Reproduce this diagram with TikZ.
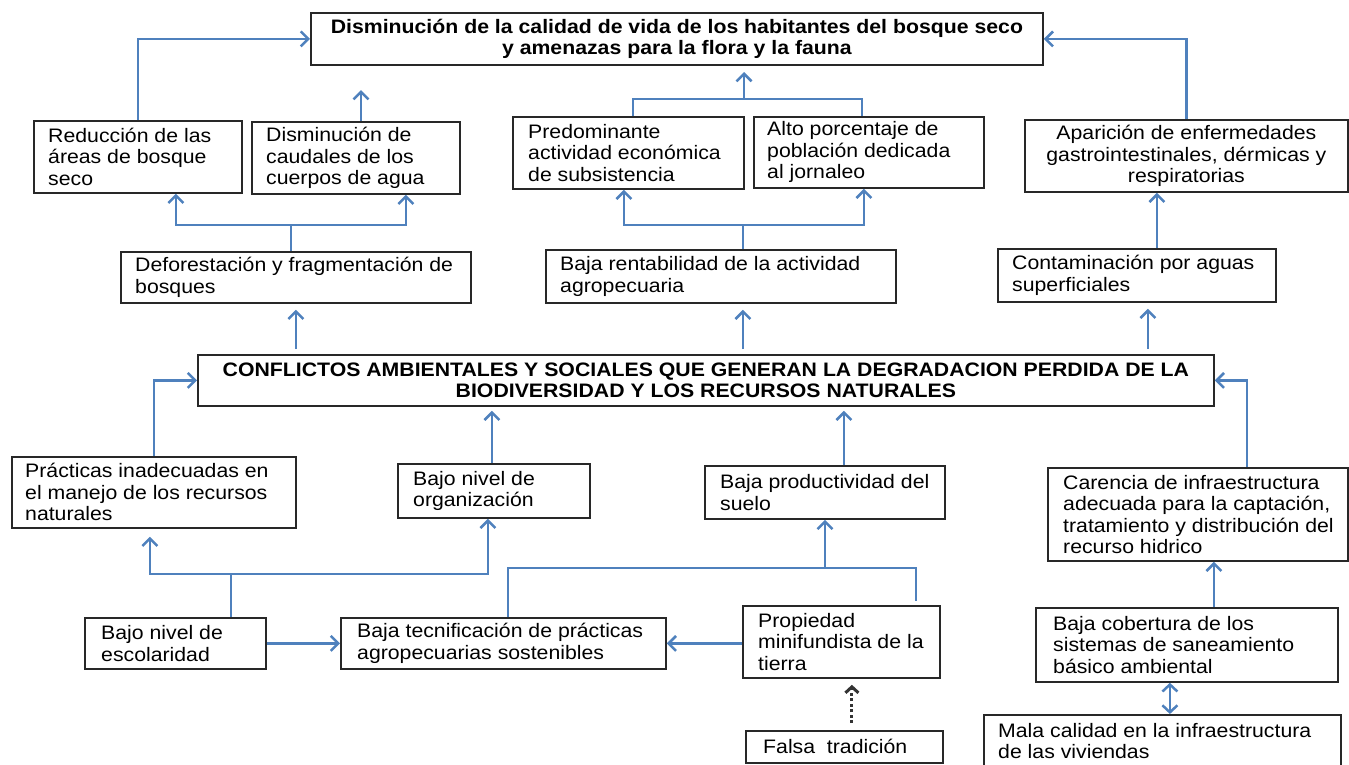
\documentclass[tikz,border=0pt]{standalone}
\usepackage{fontspec}
\setmainfont{Liberation Sans}[FakeStretch=1.09]
\usetikzlibrary{arrows.meta,calc}
\definecolor{lnblue}{RGB}{79,129,189}
\definecolor{bxgray}{RGB}{40,40,40}
\begin{document}
\begin{tikzpicture}[x=1pt,y=-1pt,
  font=\fontsize{19.5}{21.5}\selectfont,
  box/.style={draw=bxgray,line width=1.8pt,inner sep=0pt,anchor=north west},
  cbox/.style={box,align=center},
  txt/.style={align=left,inner sep=0pt,anchor=west},
  ln/.style={draw=lnblue,line width=2.5pt},
  arr/.style={ln,-{Straight Barb[length=7.5pt,width=15pt]}},
  dblarr/.style={ln,{Straight Barb[length=7pt,width=15pt]}-{Straight Barb[length=7pt,width=15pt]}},
  dotarr/.style={draw=black!80,line width=3pt,dash pattern=on 3pt off 2.5pt,-{Straight Barb[length=6pt,width=13pt,line width=3pt]}},
  gapped/.style={shorten <=5pt,shorten >=6pt}]
\useasboundingbox (0,0) rectangle (1349,764);

% ---------- boxes ----------
\node[cbox,minimum width=732pt,minimum height=52pt,font=\fontsize{19.5}{21.5}\selectfont\bfseries] (top) at (310,12)
  {Disminución de la calidad de vida de los habitantes del bosque seco\\y amenazas para la flora y la fauna};

\node[box,minimum width=208pt,minimum height=72pt] (red) at (33,120) {};
\node[txt] (red-t) at ([xshift=15pt]red.west) {Reducción de las\\áreas de bosque\\seco};

\node[box,minimum width=208pt,minimum height=72pt] (cau) at (251,121) {};
\node[txt] (cau-t) at ([xshift=15pt]cau.west) {Disminución de\\caudales de los\\cuerpos de agua};

\node[box,minimum width=231pt,minimum height=72pt] (pre) at (512,116) {};
\node[txt] (pre-t) at ([xshift=16pt]pre.west) {Predominante\\actividad económica\\de subsistencia};

\node[box,minimum width=230pt,minimum height=71pt] (alto) at (753,116) {};
\node[txt] (alto-t) at ([xshift=14pt]alto.west) {Alto porcentaje de\\población dedicada\\al jornaleo};

\node[cbox,minimum width=323pt,minimum height=72pt] (apa) at (1024,119)
  {Aparición de enfermedades\\gastrointestinales, dérmicas y\\respiratorias};

\node[box,minimum width=350pt,minimum height=51pt] (def) at (120,251) {};
\node[txt] (def-t) at ([xshift=15pt]def.west) {Deforestación y fragmentación de\\bosques};

\node[box,minimum width=350pt,minimum height=53pt] (ren) at (545,249) {};
\node[txt] (ren-t) at ([xshift=15pt]ren.west) {Baja rentabilidad de la actividad\\agropecuaria};

\node[box,minimum width=278pt,minimum height=53pt] (con) at (997,248) {};
\node[txt] (con-t) at ([xshift=15pt]con.west) {Contaminación por aguas\\superficiales};

\node[cbox,minimum width=1016pt,minimum height=51pt,font=\fontsize{19.5}{21.5}\selectfont\bfseries] (cf) at (197,354)
  {CONFLICTOS AMBIENTALES Y SOCIALES QUE GENERAN LA DEGRADACION PERDIDA DE LA\\BIODIVERSIDAD Y LOS RECURSOS NATURALES};

\node[box,minimum width=284pt,minimum height=71pt] (pra) at (11,456) {};
\node[txt] (pra-t) at ([xshift=14pt]pra.west) {Prácticas inadecuadas en\\el manejo de los recursos\\naturales};

\node[box,minimum width=192pt,minimum height=54pt] (org) at (397,463) {};
\node[txt] (org-t) at ([xshift=16pt]org.west) {Bajo nivel de\\organización};

\node[box,minimum width=240pt,minimum height=53pt] (pro) at (704,465) {};
\node[txt] (pro-t) at ([xshift=16pt]pro.west) {Baja productividad del\\suelo};

\node[box,minimum width=300pt,minimum height=93pt] (car) at (1047,467) {};
\node[txt] (car-t) at ([xshift=16pt]car.west) {Carencia de infraestructura\\adecuada para la captación,\\tratamiento y distribución del\\recurso hidrico};

\node[box,minimum width=181pt,minimum height=51pt] (esc) at (84,617) {};
\node[txt] (esc-t) at ([xshift=17pt]esc.west) {Bajo nivel de\\escolaridad};

\node[box,minimum width=325pt,minimum height=51pt] (tec) at (340,617) {};
\node[txt] (tec-t) at ([xshift=17pt]tec.west) {Baja tecnificación de prácticas\\agropecuarias sostenibles};

\node[box,minimum width=197pt,minimum height=72pt] (prop) at (742,605) {};
\node[txt] (prop-t) at ([xshift=16pt]prop.west) {Propiedad\\minifundista de la\\tierra};

\node[box,minimum width=197pt,minimum height=32pt] (fal) at (745,730) {};
\node[txt] (fal-t) at ([xshift=18pt]fal.west) {Falsa~~tradición};

\node[box,minimum width=302pt,minimum height=74pt] (cob) at (1035,607) {};
\node[txt] (cob-t) at ([xshift=18pt]cob.west) {Baja cobertura de los\\sistemas de saneamiento\\básico ambiental};

\node[box,minimum width=357pt,minimum height=52pt] (mal) at (983,714) {};
\node[txt] (mal-t) at ([xshift=15pt]mal.west) {Mala calidad en la infraestructura\\de las viviendas};

% ---------- helper coordinates ----------
\coordinate (cauTip) at (361,90);
\coordinate (j1) at (744,99);
\coordinate (topTip) at (744,72);
\coordinate (j2) at (291,225);
\coordinate (j3) at (743,225);
\coordinate (j4) at (231,574);
\coordinate (j5) at (508,568);
\coordinate (j6) at (916,568);
\coordinate (j7) at (825,568);

% ---------- upper level ----------
\draw[arr] (red.north) |- (top.west);
\draw[arr] (cau.north -| cauTip) -- (cauTip);
\draw[ln] ([xshift=4.5pt]pre.north) |- (j1) -| ([xshift=-7pt]alto.north);
\draw[arr] (j1) -- (topTip);
\draw[arr] (apa.north) |- (top.east);

\draw[ln] (def.north -| j2) -- (j2);
\draw[arr] (j2) -| ([xshift=38pt]red.south);
\draw[arr] (j2) -| ([xshift=50pt]cau.south);

\draw[ln] (ren.north -| j3) -- (j3);
\draw[arr] (j3) -| ([xshift=-4.5pt]pre.south);
\draw[arr] (j3) -| ([xshift=-5pt]alto.south);

\draw[arr] ([xshift=20pt]con.north) -- ([xshift=20pt]con.north |- apa.south);

% ---------- from conflicts up ----------
\draw[arr,gapped] (def.south |- cf.north) -- (def.south);
\draw[arr,gapped] ([xshift=22pt]ren.south |- cf.north) -- ([xshift=22pt]ren.south);
\draw[arr,gapped] ([xshift=11pt]con.south |- cf.north) -- ([xshift=11pt]con.south);

% ---------- causes into conflicts ----------
\draw[arr] (pra.north) |- (cf.west);
\draw[arr,shorten >=4pt] ([xshift=-2pt]org.north) -- ([xshift=-2pt]org.north |- cf.south);
\draw[arr,shorten >=4pt] ([xshift=19pt]pro.north) -- ([xshift=19pt]pro.north |- cf.south);
\draw[arr] ([xshift=49pt]car.north) |- (cf.east);

% ---------- lower level ----------
\draw[ln] (esc.north -| j4) -- (j4);
\draw[arr,shorten >=8pt] (j4) -| ([xshift=-4pt]pra.south);
\draw[arr] (j4) -| ([xshift=-6pt]org.south);
\draw[arr] (esc.east) -- (tec.west);

\draw[ln] (tec.north -| j5) -- (j5) -- (j6) -- ([yshift=4pt]j6 |- prop.north);
\draw[arr] (j7) -- (j7 |- pro.south);
\draw[arr] (tec.east -| prop.west) -- (tec.east);

\draw[dotarr,shorten <=7pt,shorten >=6pt] ([xshift=7.5pt]fal.north) -- ([xshift=7.5pt]fal.north |- prop.south);

\draw[arr] ([xshift=27pt]cob.north) -- ([xshift=27pt]cob.north |- car.south);
\draw[dblarr] ([xshift=-17pt]cob.south) -- ([xshift=-17pt]cob.south |- mal.north);
\end{tikzpicture}
\end{document}
